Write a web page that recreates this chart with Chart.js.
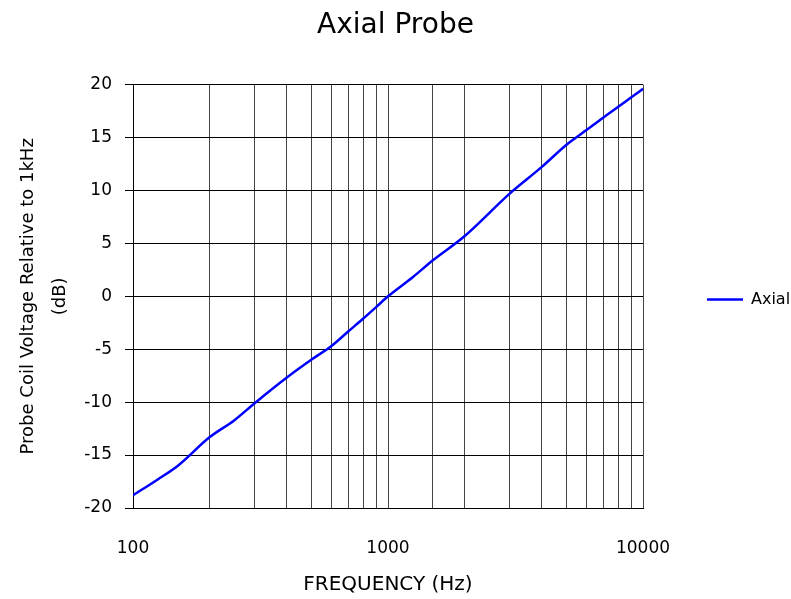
<!DOCTYPE html>
<html>
<head>
<meta charset="utf-8">
<script src="https://cdn.jsdelivr.net/npm/chart.js@4/dist/chart.umd.min.js"></script>
<style>
  html, body { margin: 0; padding: 0; background: #fff; }
  #wrap { width: 791px; height: 599px; }
</style>
</head>
<body>
<div id="wrap"><canvas id="chart"></canvas></div>
<script>
// -------- datos -----------------------------
const freqs = [100, 125, 150, 200, 250, 300, 400, 500, 600, 700, 800, 900,
               1000, 1250, 1500, 2000, 3000, 4000, 5000, 6000, 7000, 8000, 9000, 10000];
const axialDb = [-18.8, -17.3, -16.0, -13.3, -11.7, -10.1, -7.7, -6.0, -4.7, -3.3, -2.1, -1.0,
                 0.0, 1.8, 3.4, 5.7, 9.7, 12.2, 14.3, 15.7, 16.9, 17.9, 18.8, 19.6];
const xLabels = [100, 1000, 10000];
const yTitle = ["Probe Coil Voltage Relative to 1kHz", "(dB)"];

const FONT = '"Comic Sans MS", "DejaVu Sans", sans-serif';

// ancho fijo de la leyenda para dejar el area del grafico donde esta en el original
const LEGEND_W = 148;
const legendFit = {
  id: "legendFit",
  afterInit(chart) {
    const lg = chart.legend;
    if (!lg) return;
    const fit = lg.fit;
    lg.fit = function () { fit.call(this); this.width = LEGEND_W; };
  }
};

new Chart(document.getElementById("chart"), {
  type: "line",
  data: {
    datasets: [{
      label: "Axial",
      data: freqs.map((f, i) => ({ x: f, y: axialDb[i] })),
      borderColor: "#0000ff",
      backgroundColor: "#0000ff",
      borderWidth: 2.5,
      pointRadius: 0,
      cubicInterpolationMode: "monotone"
    }]
  },
  plugins: [legendFit],
  options: {
    responsive: true,
    maintainAspectRatio: false,
    animation: false,
    layout: { padding: 0 },
    plugins: {
      title: {
        display: true,
        text: "Axial Probe",
        color: "#000",
        font: { family: FONT, size: 28, weight: "normal" },
        padding: { top: 9, bottom: 42 }
      },
      legend: {
        position: "right",
        labels: {
          color: "#000",
          font: { family: FONT, size: 16 },
          boxWidth: 36,
          boxHeight: 0,
          padding: 64
        }
      },
      tooltip: { enabled: false }
    },
    scales: {
      x: {
        type: "logarithmic",
        min: 100,
        max: 10000,
        afterFit: (s) => { s.height = 91; },
        grid: { color: "#444", lineWidth: 1, drawTicks: false },
        border: { color: "#000" },
        ticks: {
          color: "#000",
          font: { family: FONT, size: 17 },
          padding: 30,
          maxRotation: 0,
          autoSkip: false,
          callback: (v) => xLabels.includes(v) ? String(v) : ""
        },
        title: {
          display: true,
          text: "FREQUENCY (Hz)",
          color: "#000",
          font: { family: FONT, size: 20 },
          padding: { top: 0, bottom: 2 }
        }
      },
      y: {
        min: -20,
        max: 20,
        afterFit: (s) => { s.width = 133; },
        grid: { color: "#000", lineWidth: 1, tickLength: 8 },
        border: { color: "#000" },
        ticks: {
          stepSize: 5,
          color: "#000",
          font: { family: FONT, size: 17 },
          padding: 13
        },
        title: {
          display: true,
          text: yTitle,
          color: "#000",
          font: { family: FONT, size: 18, lineHeight: 1.78 },
          padding: { top: 12, bottom: 0 }
        }
      }
    }
  }
});
</script>
</body>
</html>
